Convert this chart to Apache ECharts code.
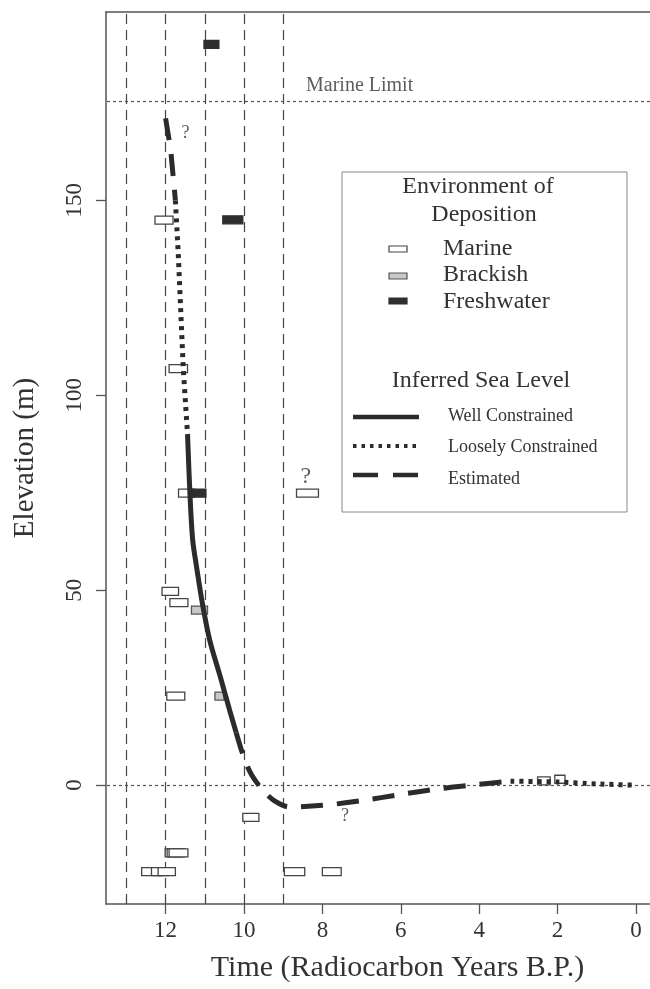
<!DOCTYPE html>
<html>
<head>
<meta charset="utf-8">
<script src="https://cdn.jsdelivr.net/npm/echarts@6/dist/echarts.min.js"></script>
<style>html,body{margin:0;padding:0;background:#fff}#c{width:650px;height:989px}</style>
</head>
<body>
<div id="c"></div>
<script>
// ---- data (x = radiocarbon kyr B.P., y = elevation m) ----
// boxes: [from (older), to (younger), elevation]
const marine = [
  [12.27, 11.81, 144.9], [11.91, 11.44, 106.8], [11.67, 11.25, 74.9], [8.66, 8.10, 74.9],
  [12.09, 11.67, 49.7], [11.89, 11.43, 46.8], [11.97, 11.51, 22.8], [10.03, 9.62, -8.3],
  [12.01, 11.58, -17.4], [11.96, 11.51, -17.4], [11.91, 11.43, -17.4],
  [12.61, 12.10, -22.2], [12.36, 11.93, -22.2], [12.19, 11.75, -22.2],
  [8.97, 8.45, -22.2], [8.00, 7.52, -22.2], [2.51, 2.19, 1.1], [2.07, 1.81, 1.5]
];
const brackish = [[11.34, 10.93, 44.9], [10.74, 10.51, 22.8]];
const freshwater = [[11.02, 10.64, 190], [10.54, 10.03, 145], [11.38, 10.97, 74.9]];

const estimatedUpper = [[12.0, 171], [11.87, 163], [11.75, 150]];
const looselyUpper = [[11.75, 150], [11.68, 137], [11.55, 107], [11.44, 90]];
const wellConstrained = [[11.44, 90], [11.38, 75], [11.31, 63], [11.21, 56], [11.05, 46], [10.87, 37], [10.61, 28], [10.36, 19], [10.2, 13.5]];
const estimatedLower = [[10.2, 13.5], [10.0, 7], [9.8, 2.5], [9.5, -1.5], [9.2, -4.2], [8.85, -5.6], [8.0, -5.2], [7.0, -4.0], [6.0, -2.4], [5.0, -0.9], [4.0, 0.2], [3.2, 1.0]];
const looselyLower = [[3.2, 1.0], [2.0, 0.8], [1.0, 0.3], [0.05, 0]];

const periodLines = [13, 12, 11, 10, 9];
const marineLimit = 175.5;
const xTicks = [0, 2, 4, 6, 8, 10, 12];
const yTicks = [0, 50, 100, 150];
const questionMarks = [[11.49, 167.2, 18], [8.42, 79.1, 24], [7.42, -8.1, 18]];
const marineLimitLabel = [7.05, 179.5];

// ---- chart ----
const FONT = "'Liberation Serif','DejaVu Serif',serif";
const TXT = '#333333';
const LINEC = '#2b2b2b';
const AXC = '#555';
const chart = echarts.init(document.getElementById('c'), null, {renderer: 'canvas'});

function boxSeries(name, data, fill, stroke) {
  return {
    type: 'custom', name: name, data: data, z: 3,
    renderItem: function (params, api) {
      const a = api.coord([api.value(0), api.value(2)]);
      const b = api.coord([api.value(1), api.value(2)]);
      const h = 8;
      return {
        type: 'rect',
        shape: {x: Math.min(a[0], b[0]), y: a[1] - h / 2, width: Math.abs(b[0] - a[0]), height: h},
        style: {fill: fill, stroke: stroke, lineWidth: 1.3}
      };
    },
    encode: {x: [0, 1], y: 2}
  };
}

function lineSeries(name, data, type, width, smooth) {
  return {
    type: 'line', name: name, data: data, showSymbol: false, symbol: 'none', z: 5,
    smooth: smooth || false, silent: true,
    lineStyle: {color: LINEC, width: width, type: type, cap: 'butt'}
  };
}

const markLines = periodLines.map(v => ({xAxis: v, lineStyle: {type: [10, 6], width: 1.2, color: '#444'}}))
  .concat([marineLimit, 0].map(v => ({yAxis: v, lineStyle: {type: [3, 3], width: 1.2, color: '#555'}})));

const X_MIN = -0.358, X_MAX = 13.52;

const option = {
  animation: false,
  backgroundColor: '#fff',
  grid: {left: 106, right: 0, top: 12, bottom: 85, show: false},
  xAxis: [{
    type: 'value', inverse: true, min: X_MIN, max: X_MAX, position: 'bottom',
    name: 'Time (Radiocarbon Years B.P.)', nameLocation: 'middle', nameGap: 49,
    nameTextStyle: {fontFamily: FONT, fontSize: 30, color: TXT, padding: [0, 0, 0, 39]},
    axisLine: {show: true, onZero: false, lineStyle: {color: AXC, width: 1.5}},
    axisTick: {show: true, length: 10, customValues: xTicks, lineStyle: {color: AXC, width: 1.3}},
    axisLabel: {customValues: xTicks, fontFamily: FONT, fontSize: 23, color: TXT, margin: 15},
    splitLine: {show: false}
  }, {
    type: 'value', inverse: true, min: X_MIN, max: X_MAX, position: 'top',
    axisLine: {show: true, onZero: false, lineStyle: {color: AXC, width: 1.5}},
    axisTick: {show: false}, axisLabel: {show: false}, splitLine: {show: false}
  }],
  yAxis: {
    type: 'value', min: -30.5, max: 198.3,
    name: 'Elevation (m)', nameLocation: 'middle', nameGap: 66, nameRotate: 90,
    nameTextStyle: {fontFamily: FONT, fontSize: 29, color: TXT},
    axisLine: {show: true, onZero: false, lineStyle: {color: AXC, width: 1.5}},
    axisTick: {show: true, length: 10, customValues: yTicks, lineStyle: {color: AXC, width: 1.3}},
    axisLabel: {customValues: yTicks, rotate: 90, fontFamily: FONT, fontSize: 23, color: TXT, margin: 20},
    splitLine: {show: false}
  },
  series: [
    Object.assign(boxSeries('Marine', marine, '#ffffff', '#444'), {
      markLine: {silent: true, symbol: 'none', label: {show: false}, animation: false, data: markLines, z: 1}
    }),
    boxSeries('Brackish', brackish, '#c8c8c8', '#555'),
    boxSeries('Freshwater', freshwater, '#2e2e2e', '#2e2e2e'),
    lineSeries('Estimated', estimatedUpper, [22, 14], 5),
    lineSeries('Loosely Constrained', looselyUpper, [4, 5], 5),
    lineSeries('Well Constrained', wellConstrained, 'solid', 5, 0.3),
    lineSeries('Estimated', estimatedLower, [22, 14], 5, 0.3),
    lineSeries('Loosely Constrained', looselyLower, [4, 5], 5, 0.2),
    {
      type: 'scatter', symbolSize: 0, silent: true, z: 6,
      data: questionMarks.map(q => ({value: [q[0], q[1]], label: {fontSize: q[2]}})),
      label: {show: true, position: 'inside', formatter: '?', fontFamily: FONT, color: TXT}
    },
    {
      type: 'scatter', symbolSize: 0, silent: true, z: 6,
      data: [marineLimitLabel],
      label: {show: true, position: 'inside', formatter: 'Marine Limit', fontFamily: FONT, fontSize: 20, color: TXT}
    }
  ],
  graphic: [
    {type: 'rect', shape: {x: 342, y: 172, width: 285, height: 340}, style: {fill: '#fff', stroke: '#888', lineWidth: 1}, z: 10},
    {type: 'text', x: 478, y: 187, style: {text: 'Environment of', font: '24px ' + FONT, fill: TXT, textAlign: 'center', textVerticalAlign: 'middle'}, z: 11},
    {type: 'text', x: 484, y: 215, style: {text: 'Deposition', font: '24px ' + FONT, fill: TXT, textAlign: 'center', textVerticalAlign: 'middle'}, z: 11},
    {type: 'rect', shape: {x: 389, y: 246, width: 18, height: 6}, style: {fill: '#fff', stroke: '#444', lineWidth: 1.2}, z: 11},
    {type: 'rect', shape: {x: 389, y: 273, width: 18, height: 6}, style: {fill: '#c8c8c8', stroke: '#555', lineWidth: 1.2}, z: 11},
    {type: 'rect', shape: {x: 389, y: 298, width: 18, height: 6}, style: {fill: '#2e2e2e', stroke: '#2e2e2e', lineWidth: 1.2}, z: 11},
    {type: 'text', x: 443, y: 249, style: {text: 'Marine', font: '24px ' + FONT, fill: TXT, textVerticalAlign: 'middle'}, z: 11},
    {type: 'text', x: 443, y: 275, style: {text: 'Brackish', font: '24px ' + FONT, fill: TXT, textVerticalAlign: 'middle'}, z: 11},
    {type: 'text', x: 443, y: 302, style: {text: 'Freshwater', font: '24px ' + FONT, fill: TXT, textVerticalAlign: 'middle'}, z: 11},
    {type: 'text', x: 481, y: 381, style: {text: 'Inferred Sea Level', font: '24px ' + FONT, fill: TXT, textAlign: 'center', textVerticalAlign: 'middle'}, z: 11},
    {type: 'line', shape: {x1: 353, y1: 417, x2: 419, y2: 417}, style: {stroke: LINEC, lineWidth: 4.5}, z: 11},
    {type: 'line', shape: {x1: 353, y1: 446, x2: 419, y2: 446}, style: {stroke: LINEC, lineWidth: 4, lineDash: [3.5, 5]}, z: 11},
    {type: 'line', shape: {x1: 353, y1: 475, x2: 419, y2: 475}, style: {stroke: LINEC, lineWidth: 4.5, lineDash: [25, 15]}, z: 11},
    {type: 'text', x: 448, y: 416, style: {text: 'Well Constrained', font: '18px ' + FONT, fill: TXT, textVerticalAlign: 'middle'}, z: 11},
    {type: 'text', x: 448, y: 447, style: {text: 'Loosely Constrained', font: '18px ' + FONT, fill: TXT, textVerticalAlign: 'middle'}, z: 11},
    {type: 'text', x: 448, y: 479, style: {text: 'Estimated', font: '18px ' + FONT, fill: TXT, textVerticalAlign: 'middle'}, z: 11}
  ]
};
chart.setOption(option);
</script>
</body>
</html>
